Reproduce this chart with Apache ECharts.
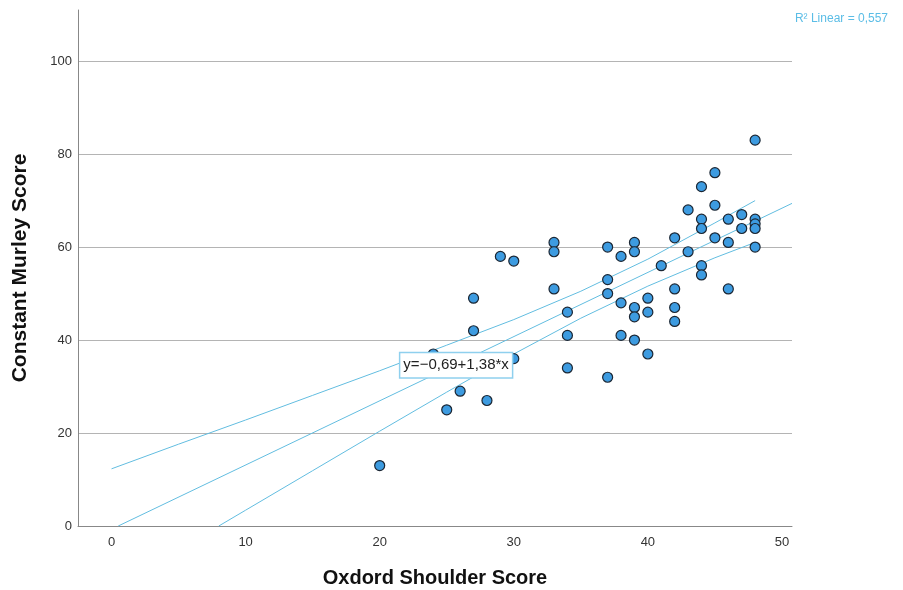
<!DOCTYPE html>
<html>
<head>
<meta charset="utf-8">
<script src="https://cdn.jsdelivr.net/npm/echarts@6/dist/echarts.min.js"></script>
<style>html,body{margin:0;padding:0;background:#fff}#c{width:903px;height:590px}</style>
</head>
<body>
<div id="c"></div>
<script>
// Oxford Shoulder Score (x) and Constant Murley Score (y)
const osScore  = [20,24,25,26,27,27,28,29,30,30,33,33,33,34,34,34,37,37,37,37,38,38,38,39,39,39,39,39,40,40,40,41,42,42,42,42,43,43,44,44,44,44,44,45,45,45,46,46,46,47,47,48,48,48,48,48];
const cmsScore = [13,37,25,29,49,42,27,58,57,36,61,59,51,46,41,34,60,53,50,32,58,48,41,61,59,47,45,40,49,46,37,56,62,51,47,44,68,59,73,66,64,56,54,76,69,62,66,61,51,67,64,83,66,65,64,60];
// Fit line end points and 95% mean-confidence band
const fitLine   = [[0.5, 0], [50.75, 69.4]];
const upperBand = [[0,12.3],[5,17.6],[10,22.8],[15,28.1],[20,33.4],[25,38.9],[30,44.4],[35,50.5],[40,57.4],[45,65.2],[48,70.0]];
const lowerBand = [[8,0],[10,3.4],[15,11.9],[20,20.4],[25,28.8],[30,37.0],[35,44.7],[40,51.6],[45,57.7],[48,61.0]];
const xTicks = [0,10,20,30,40,50];
const yTicks = [0,20,40,60,80,100];
const fitLabel = 'y=\u22120,69+1,38*x';
const r2Label = 'R\u00b2 Linear = 0,557';

const points = osScore.map((x, i) => [x, cmsScore[i]]);
const lineColor = '#62bde0';
const FONT = 'Liberation Sans, Arial, sans-serif';
const chart = echarts.init(document.getElementById('c'));
chart.setOption({
  animation: false,
  textStyle: { fontFamily: FONT },
  grid: { left: 78, right: 111, top: 10, bottom: 64, containLabel: false, outerBoundsMode: 'none' },
  xAxis: {
    type: 'value', min: -2.5, max: 50.75,
    name: 'Oxdord Shoulder Score', nameLocation: 'middle', nameGap: 42,
    nameTextStyle: { fontSize: 20, fontWeight: 'bold', color: '#111' },
    axisLine: { show: true, onZero: false, lineStyle: { color: '#888', width: 1 } },
    axisTick: { show: false, customValues: xTicks },
    axisLabel: { customValues: xTicks, color: '#333', fontSize: 13, margin: 10 },
    splitLine: { show: false }
  },
  yAxis: {
    type: 'value', min: 0, max: 111,
    name: 'Constant Murley Score', nameLocation: 'middle', nameGap: 47,
    nameTextStyle: { fontSize: 21, fontWeight: 'bold', color: '#111' },
    axisLine: { show: true, onZero: false, lineStyle: { color: '#888', width: 1 } },
    axisTick: { show: false, customValues: yTicks },
    axisLabel: { customValues: yTicks, color: '#333', fontSize: 13, margin: 6 },
    splitLine: { show: true, lineStyle: { color: '#b4b4b4', width: 1 } }
  },
  graphic: [{
    type: 'text', right: 15, top: 13,
    style: { text: r2Label, fill: '#5bbde6', fontSize: 12, fontFamily: FONT }
  }],
  series: [
    { type: 'line', data: upperBand, symbol: 'none', lineStyle: { color: lineColor, width: 1 }, z: 2 },
    { type: 'line', data: lowerBand, symbol: 'none', lineStyle: { color: lineColor, width: 1 }, z: 2 },
    { type: 'line', data: fitLine, symbol: 'none', lineStyle: { color: lineColor, width: 1 }, z: 2 },
    {
      type: 'scatter', data: points, symbolSize: 10, z: 3,
      itemStyle: { color: '#3d9be0', borderColor: '#1b2633', borderWidth: 1.2, opacity: 1 }
    },
    {
      type: 'scatter', data: [], z: 5,
      markPoint: {
        symbol: 'rect', symbolSize: 0,
        data: [{ coord: [25.7, 34.6] }],
        label: {
          show: true, position: 'inside', formatter: fitLabel,
          backgroundColor: '#fff', borderColor: '#8fd0ee', borderWidth: 1.5,
          padding: [5, 3, 4, 3], color: '#222', fontSize: 15, fontFamily: FONT
        }
      }
    }
  ]
});
</script>
</body>
</html>
